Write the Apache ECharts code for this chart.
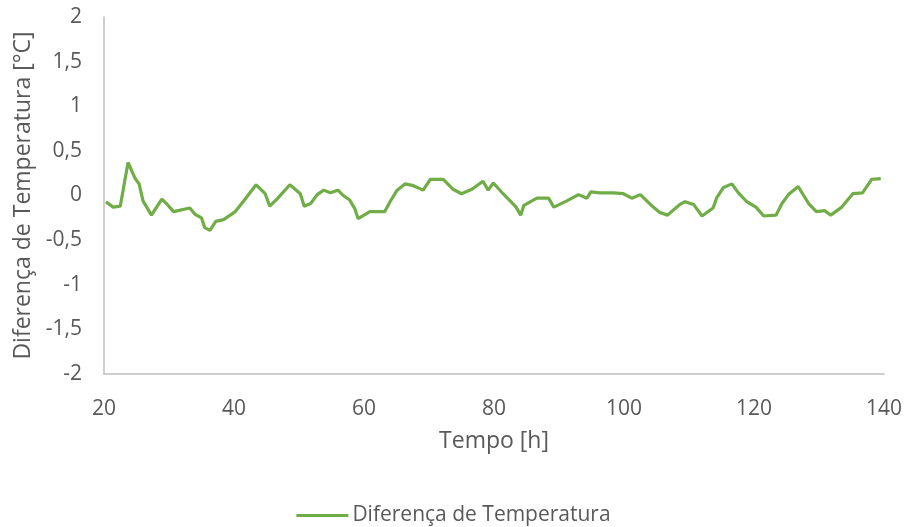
<!DOCTYPE html>
<html>
<head>
<meta charset="utf-8">
<script src="https://cdn.jsdelivr.net/npm/echarts@6/dist/echarts.min.js"></script>
<style>
html,body{margin:0;padding:0;background:#fff;}
#chart{width:907px;height:527px;}
</style>
</head>
<body>
<div id="chart"></div>
<script>
const seriesName = 'Diferença de Temperatura';
const xAxisTitle = 'Tempo [h]';
const yAxisTitle = 'Diferença de Temperatura [°C]';
const xTicks = [20, 40, 60, 80, 100, 120, 140];
const yTicks = [-2, -1.5, -1, -0.5, 0, 0.5, 1, 1.5, 2];

const times = [20.3,21.4,22.5,23.7,24.8,25.4,26.0,27.3,28.9,29.6,30.7,33.2,34.0,35.0,35.5,36.3,37.2,38.4,40.2,41.4,43.4,44.8,45.5,46.6,48.6,50.2,
  50.8,51.8,52.8,53.8,54.8,56.0,56.8,57.8,58.6,59.1,60.9,63.2,64.0,65.1,66.3,67.6,69.1,70.2,72.2,73.7,75.0,76.6,78.3,79.1,
  79.9,81.4,83.4,84.1,84.6,86.6,88.4,89.2,91.2,93.0,94.3,94.9,96.3,98.4,99.9,101.2,102.5,104.5,105.5,106.7,107.8,108.6,
  109.4,110.7,112.0,113.7,114.3,115.3,116.6,117.6,118.9,120.3,121.5,123.4,124.3,125.3,126.8,128.4,129.6,130.9,131.8,133.5,135.2,136.7,138.1,139.5];
const values = [-0.07,-0.13,-0.12,0.37,0.19,0.13,-0.06,-0.22,-0.04,-0.09,-0.18,-0.14,-0.21,-0.25,-0.36,-0.39,-0.29,-0.27,-0.18,-0.07,0.12,0.02,-0.12,-0.04,0.12,0.02,
  -0.12,-0.09,0.01,0.06,0.03,0.06,0.0,-0.05,-0.15,-0.26,-0.18,-0.18,-0.07,0.06,0.13,0.11,0.06,0.18,0.18,0.07,0.02,0.07,0.16,0.06,
  0.14,0.02,-0.13,-0.22,-0.11,-0.03,-0.03,-0.13,-0.06,0.01,-0.03,0.04,0.03,0.03,0.02,-0.03,0.01,-0.13,-0.19,-0.22,-0.15,-0.10,
  -0.07,-0.10,-0.23,-0.14,-0.02,0.09,0.13,0.03,-0.07,-0.13,-0.23,-0.22,-0.09,0.01,0.10,-0.09,-0.18,-0.17,-0.22,-0.13,0.02,0.03,0.18,0.19];

const font = 'Open Sans';
const grey = '#595959';
const chart = echarts.init(document.getElementById('chart'), null, {renderer: 'canvas'});
chart.setOption({
  animation: false,
  textStyle: {fontFamily: font},
  grid: {left: 104, right: 23, top: 17, bottom: 153, containLabel: false},
  legend: {
    top: 500, left: 'center',
    itemWidth: 52, itemHeight: 3, itemGap: 10,
    icon: 'rect',
    textStyle: {color: grey, fontSize: 21, fontFamily: font, padding: [0, 0, 0, -1]},
    data: [seriesName]
  },
  xAxis: {
    type: 'value', min: xTicks[0], max: xTicks[xTicks.length - 1], interval: 20,
    name: xAxisTitle, nameLocation: 'middle', nameGap: 56,
    nameTextStyle: {color: grey, fontSize: 23, fontFamily: font},
    axisLine: {show: true, onZero: false, lineStyle: {color: '#BFBFBF', width: 1.5}},
    axisTick: {show: false},
    splitLine: {show: false},
    axisLabel: {color: grey, fontSize: 21, margin: 25, fontFamily: font}
  },
  yAxis: {
    type: 'value', min: yTicks[0], max: yTicks[yTicks.length - 1], interval: 0.5,
    name: yAxisTitle, nameLocation: 'middle', nameGap: 66,
    nameTextStyle: {color: grey, fontSize: 23, fontFamily: font},
    axisLine: {show: true, lineStyle: {color: '#BFBFBF', width: 1.5}},
    axisTick: {show: false},
    splitLine: {show: false},
    axisLabel: {color: grey, fontSize: 21, margin: 22, fontFamily: font,
      formatter: v => String(v).replace('.', ',')}
  },
  series: [{
    name: seriesName,
    type: 'line',
    data: times.map((t, i) => [t, values[i]]),
    showSymbol: false,
    symbol: 'none',
    lineStyle: {color: '#70AD47', width: 3.2},
    itemStyle: {color: '#70AD47'}
  }]
});
</script>
</body>
</html>
